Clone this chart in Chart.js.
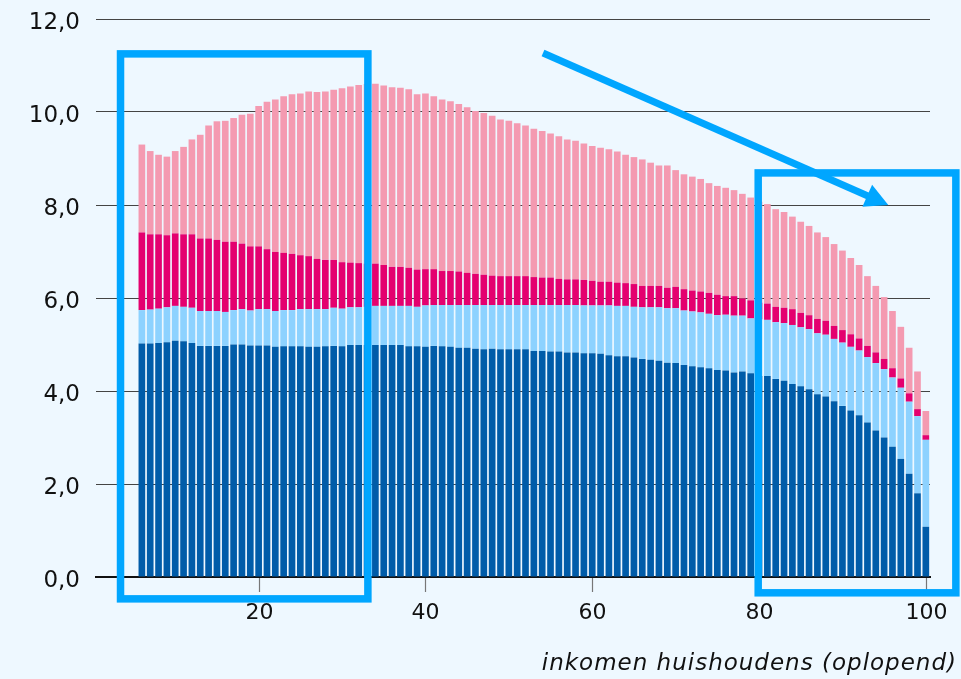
<!DOCTYPE html>
<html>
<head>
<meta charset="utf-8">
<script src="https://cdn.jsdelivr.net/npm/chart.js@4/dist/chart.umd.min.js"></script>
<style>
  html, body { margin: 0; padding: 0; background: #eef8ff; }
  #c { display: block; }
</style>
</head>
<body>
<canvas id="c" width="961" height="679"></canvas>
<script>
// Percentiles (x categories)
const percentiel = [6,7,8,9,10,11,12,13,14,15,16,17,18,19,20,21,22,23,24,25,26,27,28,29,30,
  31,32,33,34,35,36,37,38,39,40,41,42,43,44,45,46,47,48,49,50,51,52,53,54,55,56,57,58,59,60,
  61,62,63,64,65,66,67,68,69,70,71,72,73,74,75,76,77,78,79,80,81,82,83,84,85,86,87,88,89,90,
  91,92,93,94,95,96,97,98,99,100];

// Series (stacked segments, bottom to top)
const serieDonkerblauw = [5.02,5.02,5.03,5.05,5.08,5.07,5.03,4.97,4.97,4.97,4.97,5.00,5.00,4.98,4.98,4.98,4.95,4.96,4.96,4.96,4.95,4.95,4.96,4.97,4.96,
  4.99,4.99,4.99,4.99,4.99,4.99,4.99,4.96,4.96,4.95,4.97,4.96,4.95,4.93,4.93,4.91,4.90,4.91,4.90,4.90,4.90,4.90,4.86,4.86,4.85,4.85,4.83,4.83,4.81,4.81,
  4.80,4.77,4.75,4.75,4.72,4.69,4.67,4.65,4.61,4.60,4.56,4.53,4.51,4.49,4.45,4.44,4.40,4.42,4.38,4.32,4.32,4.26,4.22,4.15,4.10,4.04,3.93,3.88,3.78,3.68,
  3.58,3.48,3.32,3.15,3.00,2.80,2.54,2.22,1.80,1.08];
const serieLichtblauw = [0.72,0.73,0.74,0.75,0.75,0.74,0.76,0.75,0.75,0.75,0.73,0.74,0.76,0.75,0.78,0.78,0.77,0.78,0.78,0.80,0.81,0.81,0.80,0.82,0.81,
  0.81,0.81,0.82,0.84,0.84,0.84,0.84,0.87,0.85,0.89,0.88,0.89,0.90,0.92,0.92,0.94,0.95,0.94,0.95,0.95,0.95,0.95,0.99,0.99,1.00,1.00,1.02,1.02,1.03,1.03,
  1.04,1.07,1.08,1.08,1.09,1.11,1.13,1.15,1.17,1.18,1.17,1.18,1.18,1.17,1.18,1.20,1.22,1.20,1.18,1.22,1.21,1.22,1.24,1.27,1.27,1.29,1.31,1.33,1.34,1.36,
  1.37,1.39,1.41,1.45,1.47,1.49,1.53,1.55,1.66,1.87];
const serieMagenta = [1.67,1.62,1.60,1.55,1.56,1.56,1.58,1.56,1.56,1.53,1.51,1.47,1.41,1.38,1.35,1.29,1.27,1.23,1.21,1.16,1.14,1.08,1.06,1.03,1.00,
  0.96,0.95,0.93,0.91,0.88,0.84,0.84,0.82,0.80,0.78,0.77,0.73,0.73,0.72,0.69,0.67,0.65,0.63,0.62,0.62,0.62,0.62,0.60,0.59,0.59,0.56,0.55,0.55,0.55,0.53,
  0.51,0.51,0.50,0.49,0.49,0.46,0.46,0.46,0.44,0.46,0.46,0.45,0.45,0.45,0.44,0.40,0.42,0.37,0.39,0.36,0.35,0.33,0.33,0.34,0.31,0.30,0.31,0.30,0.28,0.27,
  0.27,0.26,0.24,0.23,0.22,0.20,0.20,0.18,0.15,0.10];
const serieRoze = [1.89,1.79,1.71,1.69,1.77,1.88,2.04,2.23,2.43,2.55,2.60,2.66,2.77,2.85,3.02,3.17,3.28,3.37,3.43,3.48,3.54,3.59,3.62,3.66,3.74,
  3.79,3.83,3.86,3.87,3.86,3.86,3.85,3.84,3.77,3.78,3.72,3.69,3.65,3.60,3.56,3.50,3.48,3.44,3.37,3.34,3.29,3.24,3.19,3.15,3.10,3.07,3.01,2.98,2.93,2.90,
  2.88,2.85,2.82,2.76,2.73,2.72,2.65,2.59,2.63,2.51,2.47,2.45,2.42,2.36,2.34,2.33,2.28,2.25,2.21,2.17,2.14,2.10,2.06,1.99,1.96,1.92,1.86,1.80,1.76,1.71,
  1.64,1.58,1.50,1.43,1.33,1.23,1.11,0.98,0.81,0.52];

const xTicks = [20, 40, 60, 80, 100];
const yTicks = [0, 2, 4, 6, 8, 10, 12];
const xTitel = 'inkomen huishoudens (oplopend)';

// Annotation overlays in data coordinates
const kaders = [
  { x0: 3.44, x1: 33.1, y0: -0.47, y1: 11.25 },
  { x0: 79.9, x1: 103.6, y0: -0.34, y1: 8.69 }
];
const pijl = { x0: 54.1, y0: 11.27, x1: 95.5, y1: 8.0 };

const BG = '#eef8ff';
const ACCENT = '#00a6ff';
const FONT = '"DejaVu Sans", sans-serif';

function toPoints(values) {
  return percentiel.map((p, i) => ({ x: p, y: values[i] }));
}

const bgPlugin = {
  id: 'bg',
  beforeDraw(chart) {
    const ctx = chart.ctx;
    ctx.save();
    ctx.fillStyle = BG;
    ctx.fillRect(0, 0, chart.width, chart.height);
    ctx.restore();
  }
};

const overlayPlugin = {
  id: 'overlay',
  afterDraw(chart) {
    const ctx = chart.ctx;
    const xs = chart.scales.x, ys = chart.scales.y;
    const area = chart.chartArea;
    ctx.save();
    // x tick marks and tick labels
    ctx.strokeStyle = '#777';
    ctx.lineWidth = 1.2;
    ctx.fillStyle = '#111';
    ctx.font = '22px ' + FONT;
    ctx.textAlign = 'center';
    ctx.textBaseline = 'middle';
    xTicks.forEach(v => {
      const px = Math.round(xs.getPixelForValue(v)) + 0.5;
      ctx.beginPath();
      ctx.moveTo(px, area.bottom + 1);
      ctx.lineTo(px, area.bottom + 15);
      ctx.stroke();
      ctx.fillText(String(v), px, area.bottom + 36);
    });
    // axis title
    ctx.font = 'italic 23px ' + FONT;
    if ('letterSpacing' in ctx) ctx.letterSpacing = '1px';
    ctx.textAlign = 'right';
    ctx.textBaseline = 'alphabetic';
    ctx.fillText(xTitel, 957, 670);
    if ('letterSpacing' in ctx) ctx.letterSpacing = '0px';

    ctx.strokeStyle = ACCENT;
    ctx.fillStyle = ACCENT;
    ctx.lineWidth = 7.5;
    ctx.lineJoin = 'miter';
    kaders.forEach(k => {
      const l = xs.getPixelForValue(k.x0), r = xs.getPixelForValue(k.x1);
      const t = ys.getPixelForValue(k.y1), b = ys.getPixelForValue(k.y0);
      ctx.strokeRect(l, t, r - l, b - t);
    });
    // arrow
    const ax = xs.getPixelForValue(pijl.x0), ay = ys.getPixelForValue(pijl.y0);
    const bx = xs.getPixelForValue(pijl.x1), by = ys.getPixelForValue(pijl.y1);
    const ang = Math.atan2(by - ay, bx - ax);
    const headLen = 23, headHalf = 12;
    const baseX = bx - headLen * Math.cos(ang), baseY = by - headLen * Math.sin(ang);
    ctx.lineCap = 'butt';
    ctx.lineWidth = 7;
    ctx.beginPath();
    ctx.moveTo(ax, ay);
    ctx.lineTo(baseX + 2 * Math.cos(ang), baseY + 2 * Math.sin(ang));
    ctx.stroke();
    ctx.beginPath();
    ctx.moveTo(bx, by);
    ctx.lineTo(baseX + headHalf * Math.sin(ang), baseY - headHalf * Math.cos(ang));
    ctx.lineTo(baseX - headHalf * Math.sin(ang), baseY + headHalf * Math.cos(ang));
    ctx.closePath();
    ctx.fill();
    ctx.restore();
  }
};

const barOpts = { barPercentage: 0.8, categoryPercentage: 1.0, borderWidth: 0 };

new Chart(document.getElementById('c'), {
  type: 'bar',
  data: {
    datasets: [
      { label: 'a', data: toPoints(serieDonkerblauw), backgroundColor: '#005ca9', ...barOpts },
      { label: 'b', data: toPoints(serieLichtblauw), backgroundColor: '#8dd2ff', ...barOpts },
      { label: 'c', data: toPoints(serieMagenta), backgroundColor: '#e4006f', ...barOpts },
      { label: 'd', data: toPoints(serieRoze), backgroundColor: '#f49ab1', ...barOpts }
    ]
  },
  options: {
    responsive: false,
    animation: false,
    layout: { padding: { left: 0, right: 31, top: 19, bottom: 0 } },
    plugins: { legend: { display: false }, tooltip: { enabled: false }, title: { display: false } },
    scales: {
      x: {
        type: 'linear',
        stacked: true,
        min: 0.5,
        max: 100.5,
        offset: false,
        afterBuildTicks: s => { s.ticks = xTicks.map(v => ({ value: v })); },
        afterFit: s => { s.height = 102; s.paddingLeft = 0; s.paddingRight = 0; },
        grid: { display: false, drawTicks: false },
        border: { display: true, color: '#111', width: 2 },
        ticks: { display: false }
      },
      y: {
        stacked: true,
        min: 0,
        max: 12,
        afterBuildTicks: s => { s.ticks = yTicks.map(v => ({ value: v })); },
        afterFit: s => { s.width = 96; s.paddingTop = 0; s.paddingBottom = 0; },
        grid: { color: '#444', lineWidth: 1, drawTicks: false },
        border: { display: false },
        ticks: { color: '#111', font: { family: FONT, size: 23 }, padding: 16, labelOffset: 4,
          callback: v => v.toFixed(1).replace('.', ',') }
      }
    }
  },
  plugins: [bgPlugin, overlayPlugin]
});
</script>
</body>
</html>
